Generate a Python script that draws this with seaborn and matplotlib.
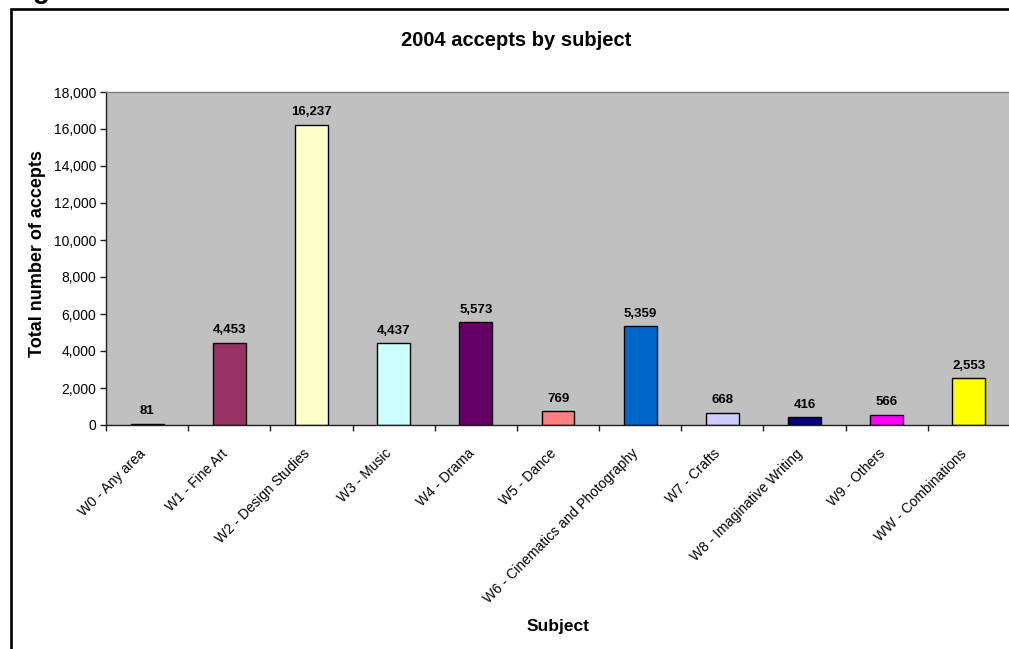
import matplotlib
matplotlib.use("Agg")
import matplotlib.pyplot as plt
from matplotlib.patches import Rectangle
from matplotlib.ticker import FuncFormatter, FixedLocator
from matplotlib.transforms import ScaledTranslation
import seaborn as sns

# Accepted applicants in 2004, by subject group
subjects = [
    "W0 - Any area",
    "W1 - Fine Art",
    "W2 - Design Studies",
    "W3 - Music",
    "W4 - Drama",
    "W5 - Dance",
    "W6 - Cinematics and Photography",
    "W7 - Crafts",
    "W8 - Imaginative Writing",
    "W9 - Others",
    "WW - Combinations",
]
accepts = [81, 4453, 16237, 4437, 5573, 769, 5359, 668, 416, 566, 2553]
bar_colors = [
    "#9999FF", "#993366", "#FFFFCC", "#CCFFFF", "#660066", "#FF8080",
    "#0066CC", "#CCCCFF", "#000080", "#FF00FF", "#FFFF00",
]
y_ticks = list(range(0, 18001, 2000))

sns.set_theme(style="white")
plt.rcParams["font.family"] = ["Liberation Sans", "DejaVu Sans"]

W, H = 1009, 649
fig = plt.figure(figsize=(W / 100, H / 100), dpi=100, facecolor="white")
ax = fig.add_axes([106 / W, 1 - 425 / H, 904 / W, 333 / H])
ax.set_facecolor("#C0C0C0")

sns.barplot(
    x=subjects, y=accepts, hue=subjects, palette=bar_colors,
    width=0.4, edgecolor="black", linewidth=1.0, legend=False,
    saturation=1, ax=ax,
)

ax.set_xlim(-0.5, len(subjects) - 0.5)
ax.set_ylim(0, 18000)
ax.set_yticks(y_ticks)
ax.yaxis.set_major_formatter(FuncFormatter(lambda v, p: f"{int(v):,}"))

# category boundaries carry the tick marks, centres carry the labels
ax.xaxis.set_major_locator(FixedLocator([i - 0.5 for i in range(len(subjects) + 1)]))
ax.xaxis.set_minor_locator(FixedLocator(list(range(len(subjects)))))
ax.set_xticklabels([], minor=False)
ax.set_xticklabels(subjects, minor=True, rotation=45, ha="right",
                   rotation_mode="anchor", va="center", fontsize=10)
ax.tick_params(axis="x", which="major", length=4.5, width=1, color="#202020",
               direction="out", bottom=True)
ax.tick_params(axis="x", which="minor", length=0, pad=19, bottom=True)
ax.tick_params(axis="y", length=4.5, width=1, color="#202020", direction="out",
               left=True, labelsize=10, pad=2.5)
for lab in ax.get_yticklabels():
    lab.set_color("black")
shift = ScaledTranslation(-4 / 100, 0, fig.dpi_scale_trans)
for lab in ax.get_xticklabels(minor=True):
    lab.set_color("black")
    lab.set_transform(lab.get_transform() + shift)

for side in ("left", "bottom"):
    ax.spines[side].set_color("#202020")
    ax.spines[side].set_linewidth(1.0)
ax.spines["top"].set_color("#808080")
ax.spines["top"].set_linewidth(1.0)
ax.spines["right"].set_visible(False)

ax.set_xlabel("")
ax.set_ylabel("")

for container in ax.containers:
    ax.bar_label(container, labels=[f"{v:,.0f}" for v in container.datavalues],
                 padding=4.5, fontsize=9.5, fontweight="bold", color="black")

fig.text(516 / W, 1 - 46 / H, "2004 accepts by subject", ha="center",
         va="baseline", fontsize=14.5, fontweight="bold", color="black")
fig.text(37.5 / W, 1 - 254 / H, "Total number of accepts", rotation=90,
         ha="center", va="center", fontsize=13, fontweight="bold", color="black")
fig.text(558 / W, 1 - 626.5 / H, "Subject", ha="center", va="center",
         fontsize=12.5, fontweight="bold", color="black")

# heading above the chart frame, mostly outside the page
fig.text(33 / W, 1 + 2 / H, "g", ha="left", va="baseline", fontsize=20,
         fontweight="bold", color="black")

# chart frame
fig.add_artist(Rectangle((11 / W, -0.2), 1.5, 1.2 - 8.5 / H,
                         transform=fig.transFigure, fill=False,
                         edgecolor="black", linewidth=1.9))

fig.savefig("out.png", dpi=100, facecolor="white")
